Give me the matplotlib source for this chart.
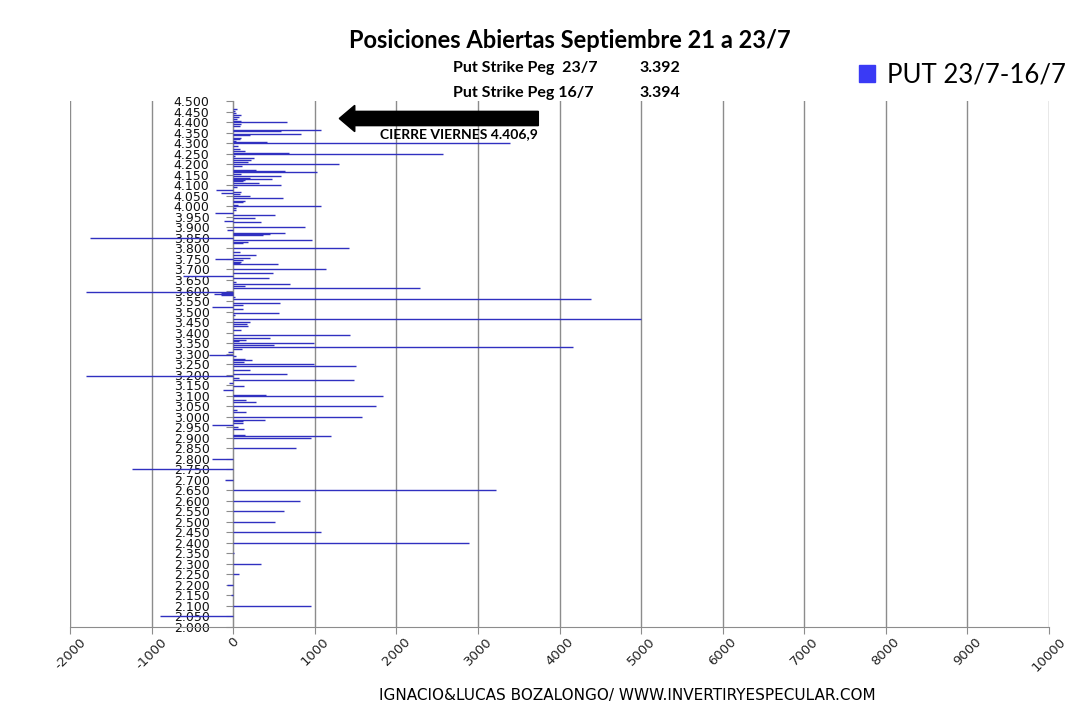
"""
Posiciones abiertas PUT Septiembre 21, cambio 23/7 - 16/7.
"""

import matplotlib.pyplot as plt
from matplotlib.patches import Patch
from matplotlib.ticker import FuncFormatter, MultipleLocator

plt.rcParams["axes.unicode_minus"] = False

# strike -> change in open interest
strikes = [
    4465, 4455, 4445, 4435, 4425, 4415, 4405, 4400, 4390, 4380,
    4365, 4360, 4345, 4340, 4325, 4320, 4310, 4305, 4300, 4285,
    4275, 4265, 4255, 4250, 4240, 4230, 4220, 4210, 4200, 4190,
    4175, 4170, 4165, 4155, 4145, 4135, 4130, 4125, 4120, 4110,
    4100, 4090, 4080, 4070, 4065, 4060, 4050, 4040, 4025, 4020,
    4005, 4000, 3990, 3985, 3970, 3960, 3945, 3930, 3925, 3900,
    3890, 3875, 3870, 3865, 3850, 3840, 3830, 3825, 3800, 3785,
    3770, 3755, 3750, 3745, 3735, 3730, 3725, 3700, 3685, 3670,
    3660, 3640, 3630, 3620, 3610, 3595, 3590, 3585, 3580, 3570,
    3560, 3540, 3530, 3520, 3510, 3495, 3485, 3465, 3450, 3440,
    3430, 3410, 3390, 3375, 3365, 3360, 3350, 3340, 3330, 3320,
    3310, 3295, 3290, 3275, 3270, 3260, 3250, 3240, 3220, 3205,
    3195, 3185, 3175, 3160, 3145, 3125, 3105, 3100, 3080, 3070,
    3050, 3030, 3020, 3000, 2985, 2980, 2970, 2960, 2950, 2940,
    2915, 2910, 2900, 2850, 2800, 2750, 2700, 2650, 2600, 2550,
    2500, 2450, 2400, 2350, 2300, 2250, 2200, 2150, 2100, 2050,
]
put_change = [
    50, 25, 40, 90, 65, 50, 90, 655, 95, 80,
    1080, 585, 830, 205, 90, 80, 40, 420, 3390, 60,
    80, 150, 685, 2575, 20, 250, 220, 180, 1300, 110,
    285, 635, 1025, 100, 590, 210, 475, 140, 120, 315,
    590, 50, -210, 100, -155, 80, 210, 615, 150, 115,
    55, 1075, 40, 40, -220, 515, 270, -115, 340, 880,
    -80, 635, 450, 370, -1755, 965, 180, 115, 1420, 80,
    280, 205, -220, 120, 95, 80, 545, 1140, 485, -610,
    440, 40, 690, 150, 2290, -1800, -145, -240, -145, 20,
    4385, 570, 125, -255, 115, 560, 20, 5000, 200, 175,
    180, 100, 1435, 450, 160, 75, 995, 500, 4165, 110,
    -70, -300, 30, 145, 235, 135, 995, 1500, 200, 655,
    -1800, 70, 1485, -55, 130, -130, 400, 1835, 155, 280,
    1750, 50, 160, 1575, 390, 115, 125, -265, 55, 135,
    145, 1200, 950, 765, -260, -1240, -95, 3215, 815, 620,
    510, 1075, 2890, 10, 340, 75, -75, -25, 950, -900,
]

bar_color = "#3030c0"
grid_color = "#8c8c8c"

fig = plt.figure(figsize=(10.86, 7.08), dpi=100)
ax = fig.add_axes([0.0645, 0.1144, 0.9015, 0.7426])

ax.hlines(strikes, 0, put_change, color=bar_color, lw=1.0, zorder=3)

ax.set_xlim(-2000, 10000)
ax.set_ylim(2000, 4500)
ax.xaxis.set_major_locator(MultipleLocator(1000))
ax.yaxis.set_major_locator(MultipleLocator(50))
ax.yaxis.set_major_formatter(FuncFormatter(lambda v, p: f"{v / 1000:.3f}"))
ax.grid(axis="x", color=grid_color, lw=1.0, zorder=0)

for side in ["top", "right"]:
    ax.spines[side].set_visible(False)
ax.spines["left"].set_position(("data", 0))
ax.spines["left"].set_color(grid_color)
ax.spines["bottom"].set_color(grid_color)

ax.tick_params(axis="y", direction="out", length=5, color=grid_color,
               pad=12, labelsize=9, labelcolor="#111111")
ax.tick_params(axis="x", direction="out", length=5, color=grid_color,
               pad=1, labelsize=9.5, labelcolor="#222222", labelrotation=45)
for lbl in ax.get_yticklabels():
    lbl.set_zorder(5)

# arrow with last close
ax.arrow(3740, 4418, -2440, 0, width=68, head_width=125, head_length=190,
         length_includes_head=True, color="black", zorder=4)
ax.text(3730, 4343, "CIERRE VIERNES 4.406,9", ha="right", va="center",
        fontsize=10, fontweight="bold", family="Lato", zorder=4)

# titles
fig.text(0.525, 0.943, "Posiciones Abiertas Septiembre 21 a 23/7", ha="center",
         va="center", fontsize=17, fontweight="bold", family="Lato")
fig.text(0.417, 0.904, "Put Strike Peg  23/7", ha="left", va="center",
         fontsize=11.5, fontweight="bold", family="Lato")
fig.text(0.589, 0.904, "3.392", ha="left", va="center",
         fontsize=11.5, fontweight="bold", family="Lato")
fig.text(0.417, 0.869, "Put Strike Peg 16/7", ha="left", va="center",
         fontsize=11.5, fontweight="bold", family="Lato")
fig.text(0.589, 0.869, "3.394", ha="left", va="center",
         fontsize=11.5, fontweight="bold", family="Lato")

fig.legend(handles=[Patch(color="#3a3af5", label="PUT 23/7-16/7")],
           loc="center", bbox_to_anchor=(0.886, 0.894), frameon=False,
           prop={"family": "Lato", "size": 18.5}, handlelength=0.65,
           handleheight=0.65, handletextpad=0.45)

fig.text(0.578, 0.017, "IGNACIO&LUCAS BOZALONGO/ WWW.INVERTIRYESPECULAR.COM",
         ha="center", va="center", fontsize=11,
         family=["Liberation Sans Narrow", "DejaVu Sans"])

fig.savefig("out.png", dpi=100)
